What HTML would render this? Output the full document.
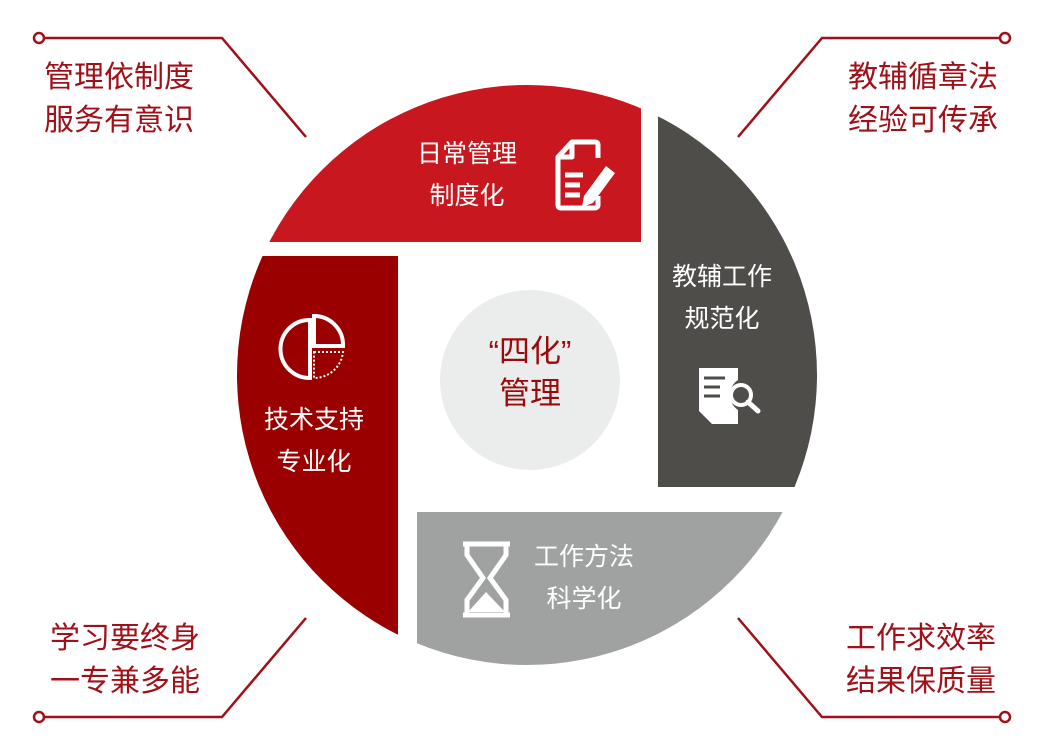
<!DOCTYPE html>
<html><head><meta charset="utf-8"><style>
html,body{margin:0;padding:0;background:#fff;}
svg{display:block;}
text{font-family:"Liberation Sans","Noto Sans CJK SC",sans-serif;}
</style></head><body>
<svg width="1040" height="753" viewBox="0 0 1040 753" xmlns="http://www.w3.org/2000/svg">
<defs><clipPath id="c"><circle cx="527" cy="375" r="290"/></clipPath></defs>
<g clip-path="url(#c)">
<rect x="200" y="60" width="441" height="182" fill="#c8171f"/>
<rect x="658" y="60" width="200" height="427" fill="#4f4d4a"/>
<rect x="417" y="512" width="440" height="200" fill="#a0a1a1"/>
<rect x="200" y="256" width="198" height="420" fill="#9a0000"/>
</g>
<circle cx="530" cy="380" r="90" fill="#ebeded"/>
<g fill="#9a0a0a" font-size="31" text-anchor="middle">
<text x="530" y="362">“四化”</text>
<text x="530" y="404">管理</text>
</g>
<g fill="#fff" font-size="25" text-anchor="middle">
<text x="467" y="162">日常管理</text>
<text x="467" y="204">制度化</text>
<text x="722" y="285">教辅工作</text>
<text x="722" y="327">规范化</text>
<text x="314" y="428">技术支持</text>
<text x="314" y="470">专业化</text>
<text x="584" y="565">工作方法</text>
<text x="584" y="607">科学化</text>
</g>
<!-- doc icon -->
<g stroke="#fff" stroke-width="5" fill="none" stroke-linejoin="round">
<path d="M598 158 V145 Q598 142 595 142 H572 L558 157 V205 Q558 208 561 208 H594 Q598 208 598 205 V196"/>
<path d="M558 157 H572 V142"/>
<path d="M565 175 H583 M565 185 H580 M565 195 H580"/>
</g>
<path d="M584 196 L606 166 L615 173 L593 203 L582 207 Z" fill="#fff"/>
<!-- search doc icon -->
<path d="M699 368 H738 V380 A18 18 0 0 0 738 410 V424 H712 L699 411 Z" fill="#fff"/>
<g stroke="#4f4d4a" stroke-width="3"><path d="M704 378 H725 M704 387 H720 M704 396 H720"/></g>
<circle cx="741" cy="395" r="10" fill="none" stroke="#fff" stroke-width="4"/>
<path d="M748 402 L758 411" stroke="#fff" stroke-width="5" stroke-linecap="round"/>
<!-- pie icon -->
<g stroke="#fff" stroke-width="4" fill="none">
<path d="M309 320 A29 29 0 1 0 310 378 V320 Z"/>
<path d="M314 316 V346 H343 A29 29 0 0 0 314 316 Z"/>
</g>
<path d="M314 352 H343 A29 29 0 0 1 314 378 Z" fill="none" stroke="#fff" stroke-width="2" stroke-dasharray="2 2"/>
<!-- hourglass -->
<g stroke="#fff" stroke-width="5" fill="none">
<path d="M463 544 H510 M463 615 H510"/>
<path d="M467 546 V555 L483 578 L467 600 V613 M506 546 V555 L490 578 L506 600 V613"/>
</g>
<path d="M468 612 L486 592 L505 612 Z" fill="#fff"/>
<!-- corners -->
<g stroke="#a01018" stroke-width="2.5" fill="none">
<circle cx="39" cy="38" r="5" fill="#fff"/>
<path d="M44 38 H222 L306 137"/>
<circle cx="1005" cy="38" r="5" fill="#fff"/>
<path d="M1000 38 H822 L738 137"/>
<circle cx="39" cy="717" r="5" fill="#fff"/>
<path d="M44 717 H222 L306 618"/>
<circle cx="1005" cy="717" r="5" fill="#fff"/>
<path d="M1000 717 H822 L738 618"/>
</g>
<g fill="#a01018" font-size="30">
<text x="44" y="87">管理依制度</text>
<text x="44" y="130">服务有意识</text>
<text x="848" y="87">教辅循章法</text>
<text x="848" y="130">经验可传承</text>
<text x="50" y="648">学习要终身</text>
<text x="50" y="691">一专兼多能</text>
<text x="846" y="648">工作求效率</text>
<text x="846" y="691">结果保质量</text>
</g>
</svg>
</body></html>
